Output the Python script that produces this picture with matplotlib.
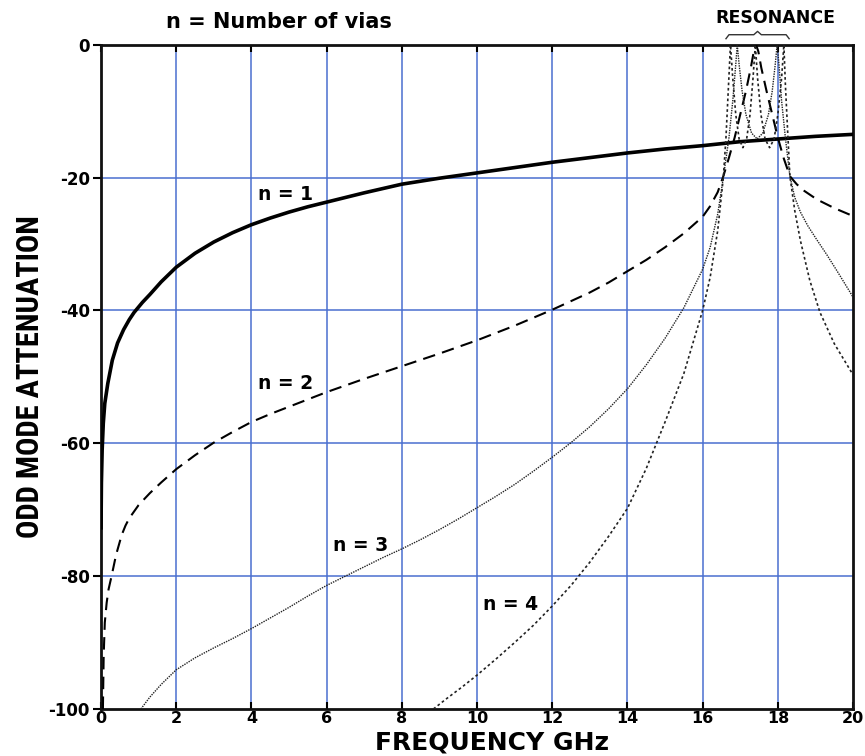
import matplotlib
matplotlib.use("Agg")
import matplotlib.pyplot as plt
from matplotlib import font_manager

# ---- data ----
n1_x = [0.0, 0.01, 0.03, 0.06, 0.1, 0.18, 0.3, 0.44, 0.6, 0.75, 0.88, 1.1, 1.3, 1.6,
        2, 2.5, 3, 3.5, 4, 4.5, 5, 5.5, 6, 7, 8, 9, 10, 11, 12, 13, 14, 15, 16, 17,
        18, 19, 20]
n1_y = [-73, -66, -61, -57, -54, -51, -47.5, -44.9, -42.9, -41.4, -40.3, -38.8, -37.6,
        -35.7, -33.5, -31.4, -29.7, -28.3, -27.1, -26.1, -25.2, -24.4, -23.7, -22.3,
        -21.0, -20.1, -19.3, -18.5, -17.7, -17.0, -16.3, -15.7, -15.2, -14.6, -14.2,
        -13.8, -13.5]

n2_x = [0.05, 0.07, 0.1, 0.15, 0.2, 0.28, 0.4, 0.55, 0.65, 0.75, 1.0, 1.3, 1.6, 2,
        2.5, 3, 3.5, 4, 4.5, 5, 6, 7, 8, 9, 10, 11, 12, 13, 13.5, 14, 14.5, 15, 15.5,
        16, 16.2, 16.4, 16.55, 16.7, 16.85, 17.0, 17.15, 17.28, 17.36, 17.42, 17.48,
        17.56, 17.7, 17.85, 18.0, 18.15, 18.32, 18.5, 18.7, 19.04, 19.5, 20]
n2_y = [-100, -92, -87, -84, -82, -80, -76.8, -73.8, -72.4, -71.3, -69.3, -67.5,
        -65.9, -63.9, -61.8, -59.9, -58.3, -56.8, -55.6, -54.5, -52.3, -50.3, -48.4,
        -46.5, -44.5, -42.3, -39.9, -37.3, -35.8, -34.1, -32.4, -30.5, -28.4, -25.9,
        -24.3, -22.2, -19.8, -17, -14, -10.5, -7, -3.5, -1, 0, -1, -3.5, -7, -10.5,
        -14, -17, -19.8, -21, -22, -23.3, -24.6, -25.8]

n3_x = [1.06, 1.3, 1.6, 2, 2.5, 3, 3.5, 4, 4.5, 5, 5.5, 6, 6.5, 7, 7.5, 8, 8.5, 9,
        9.5, 10, 10.5, 11, 11.5, 12, 12.5, 13, 13.5, 14, 14.5, 15, 15.5, 16, 16.2,
        16.4, 16.55, 16.7, 16.8, 16.88, 16.92, 16.97, 17.05, 17.15, 17.3, 17.45,
        17.6, 17.75, 17.85, 17.93, 17.98, 18.03, 18.1, 18.2, 18.32, 18.45, 18.6,
        18.8, 19.04, 19.3, 19.6, 20]
n3_y = [-100, -98.2, -96.3, -94.1, -92.3, -90.8, -89.4, -87.9, -86.3, -84.7, -83.0,
        -81.4, -80.0, -78.6, -77.2, -75.9, -74.5, -73, -71.4, -69.7, -68.0, -66.2,
        -64.2, -62.1, -59.9, -57.5, -54.8, -51.8, -48.2, -44.2, -39.6, -33.8, -30.5,
        -25.5, -20, -14, -8.5, -3, 0, -3, -7, -10.5, -13.3, -14.2, -13.3, -10.5, -7,
        -3, 0, -3, -8.5, -14, -19.8, -23, -25.2, -27.3, -29.4, -31.6, -34.3, -38]

n4_x = [8.84, 9.2, 9.6, 10, 10.5, 11, 11.5, 12, 12.5, 13, 13.5, 14, 14.5, 15, 15.5,
        16, 16.2, 16.4, 16.55, 16.62, 16.68, 16.74, 16.8, 16.88, 16.97, 17.07,
        17.17, 17.26, 17.34, 17.40, 17.46, 17.55, 17.66, 17.78, 17.9, 18.0, 18.1,
        18.16, 18.2, 18.26, 18.32, 18.45, 18.6, 18.85, 19.12, 19.5, 20]
n4_y = [-100, -98.4, -96.7, -94.9, -92.5, -90, -87.4, -84.5, -81.4, -77.9, -74,
        -69.8, -63.8, -56.8, -49.5, -40, -35, -28, -20, -14, -7, 0, -5, -10.5,
        -14.2, -15.5, -14.2, -10.5, -5, 0, -5, -10.5, -14.2, -15.5, -14.2, -10.5,
        -5, 0, -6, -13, -19.8, -25, -29.5, -35.5, -40.3, -45, -49.7]

x_ticks = [0, 2, 4, 6, 8, 10, 12, 14, 16, 18, 20]
y_ticks = [0, -20, -40, -60, -80, -100]

labels = ["n = 1", "n = 2", "n = 3", "n = 4"]
label_pos = [(4.9, -22.6), (4.9, -51.0), (6.9, -75.4), (10.9, -84.3)]

# ---- fonts ----
avail = {f.name for f in font_manager.fontManager.ttflist}
narrow_font = None
for cand in ["Liberation Sans Narrow", "DejaVu Sans Condensed", "Roboto Condensed"]:
    if cand in avail:
        narrow_font = cand
        break

plt.rcParams['font.family'] = ['DejaVu Sans']

fig = plt.figure(figsize=(8.65, 7.56), dpi=100)
ax = fig.add_axes([0.1168, 0.0622, 0.8694, 0.8787])

grid_color = "#4a6fd0"
for xv in x_ticks[1:-1]:
    ax.axvline(xv, color=grid_color, lw=1.1, zorder=1)
for yv in y_ticks[1:-1]:
    ax.axhline(yv, color=grid_color, lw=1.1, zorder=1)

ax.plot(n1_x, n1_y, color="black", lw=2.6, solid_capstyle="butt",
        solid_joinstyle="round", zorder=3)
ax.plot(n2_x, n2_y, color="black", lw=1.5, linestyle=(0, (6, 3.5)), zorder=3)
ax.plot(n3_x, n3_y, color="#222222", lw=1.0, linestyle=(0, (1, 0.8)), zorder=3)
ax.plot(n4_x, n4_y, color="#222222", lw=1.2, linestyle=(0, (1.6, 1.6)), zorder=3)

ax.set_xlim(0, 20)
ax.set_ylim(-100, 0)
ax.set_xticks(x_ticks)
ax.set_yticks(y_ticks)
ax.set_xticklabels([str(v) for v in x_ticks], fontsize=11.5, fontweight="bold")
ax.set_yticklabels([str(v) for v in y_ticks], fontsize=12, fontweight="bold")
ax.tick_params(axis="x", direction="in", length=5, width=1.5, top=True, pad=1.5)
ax.tick_params(axis="y", direction="out", length=6, width=1.5, right=False, pad=2)
for s in ax.spines.values():
    s.set_linewidth(2.0)
    s.set_color("#111111")

for txt, (lx, ly) in zip(labels, label_pos):
    ax.text(lx, ly, txt, fontsize=13.5, fontweight="bold", ha="center", va="center",
            zorder=4)

fig.text(0.569, 6.5 / 756, "FREQUENCY GHz", fontsize=18, fontweight="bold",
         ha="center", va="baseline")
if narrow_font:
    ax.set_ylabel("ODD MODE ATTENUATION", fontsize=22, fontweight="bold",
                  family=[narrow_font, 'DejaVu Sans'])
else:
    ax.set_ylabel("ODD MODE ATTENUATION", fontsize=17, fontweight="bold")
ax.yaxis.set_label_coords(-0.074, 0.5)

fig.text(0.323, 0.971, "n = Number of vias", fontsize=15, fontweight="bold",
         ha="center", va="center")
fig.text(0.896, 0.976, "RESONANCE", fontsize=12.5, fontweight="bold",
         ha="center", va="center")

# curly brace above resonance region
bx0, bx1 = 16.62, 18.3
bm = (bx0 + bx1) / 2
by0, by1, by2 = 0.9, 1.5, 2.0
ax.plot([bx0, bx0 + 0.08, bm - 0.1, bm, bm + 0.1, bx1 - 0.08, bx1],
        [by0, by1, by1, by2, by1, by1, by0], color="#333333", lw=1.0,
        clip_on=False, zorder=5)

fig.savefig("out.png", dpi=100, facecolor="white")
